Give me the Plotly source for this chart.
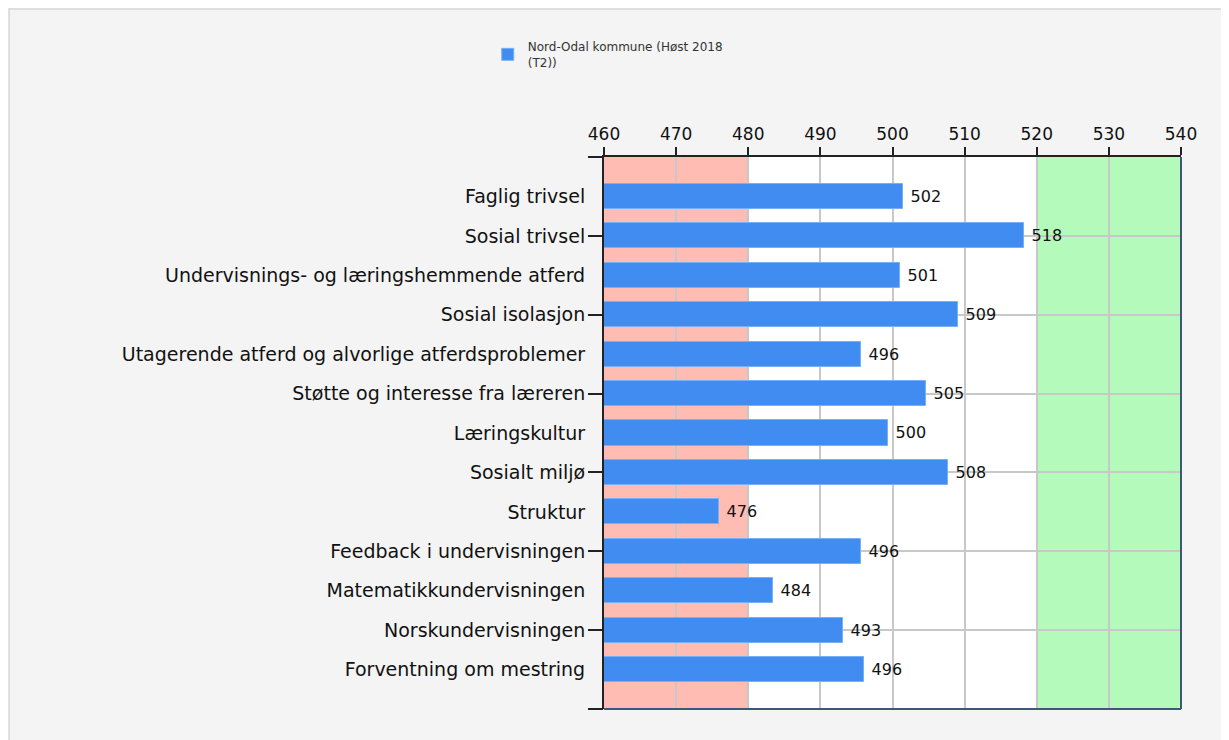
import plotly.graph_objects as go

categories = [
    "Faglig trivsel",
    "Sosial trivsel",
    "Undervisnings- og læringshemmende atferd",
    "Sosial isolasjon",
    "Utagerende atferd og alvorlige atferdsproblemer",
    "Støtte og interesse fra læreren",
    "Læringskultur",
    "Sosialt miljø",
    "Struktur",
    "Feedback i undervisningen",
    "Matematikkundervisningen",
    "Norskundervisningen",
    "Forventning om mestring",
]
values = [501.5, 518.2, 501.0, 509.1, 495.6, 504.6, 499.4, 507.7, 475.9, 495.6, 483.4, 493.1, 496.0]
value_labels = ["502", "518", "501", "509", "496", "505", "500", "508", "476", "496", "484", "493", "496"]
series_name = "Nord-Odal kommune (Høst 2018<br>(T2))"
x_ticks = [460, 470, 480, 490, 500, 510, 520, 530, 540]
low_band = (460, 480)
high_band = (520, 540)

positions = list(range(1, len(categories) + 1))
n_slots = len(categories) + 1
font_main = "DejaVu Sans, Verdana, sans-serif"

fig = go.Figure()
fig.add_trace(go.Bar(
    x=[v - x_ticks[0] for v in values],
    base=x_ticks[0],
    y=positions,
    orientation="h",
    width=0.64,
    name=series_name,
    marker=dict(color="#418cf0", line=dict(color="#78b0f7", width=1)),
    text=value_labels,
    texttemplate=" %{text}",
    textposition="outside",
    textfont=dict(family=font_main, size=16, color="#111111"),
    cliponaxis=False,
    hoverinfo="skip",
))
# helper trace so the secondary (grid) axis is drawn
fig.add_trace(go.Scatter(
    x=[x_ticks[0]], y=[0], yaxis="y2", mode="markers",
    marker=dict(opacity=0), showlegend=False, hoverinfo="skip",
))

shapes = [
    # outer panel border
    dict(type="rect", xref="paper", yref="paper", x0=-1.031, x1=1.2, y0=-0.2, y1=1.268,
         fillcolor="rgba(0,0,0,0)", line=dict(color="#dedede", width=2), layer="below"),
    # bands
    dict(type="rect", xref="x", yref="paper", x0=low_band[0], x1=low_band[1], y0=0, y1=1,
         fillcolor="#ffbcb3", line=dict(width=0), layer="below"),
    dict(type="rect", xref="x", yref="paper", x0=high_band[0], x1=high_band[1], y0=0, y1=1,
         fillcolor="#b4fbbb", line=dict(width=0), layer="below"),
    # right and bottom frame
    dict(type="line", xref="paper", yref="paper", x0=1, x1=1, y0=0, y1=1,
         line=dict(color="#3d5878", width=2), layer="above"),
    dict(type="line", xref="paper", yref="paper", x0=0, x1=1, y0=0, y1=0,
         line=dict(color="#3d5878", width=2), layer="above"),
]

fig.update_layout(
    width=1221, height=732,
    margin=dict(l=596, r=48, t=149, b=31),
    paper_bgcolor="#f4f4f4",
    plot_bgcolor="white",
    showlegend=True,
    legend=dict(
        x=-0.2015, y=1.226, xanchor="left", yanchor="top",
        bgcolor="rgba(0,0,0,0)",
        font=dict(family=font_main, size=12, color="#333333"),
        itemwidth=30,
    ),
    shapes=shapes,
    bargap=0,
    xaxis=dict(
        side="top",
        range=[x_ticks[0], x_ticks[-1]],
        tickvals=x_ticks,
        ticks="outside", ticklen=8, tickcolor="#222222", tickwidth=1.5,
        showline=True, linecolor="#222222", linewidth=2,
        showgrid=True, gridcolor="#c8c8c8", gridwidth=1.5,
        zeroline=False,
        tickfont=dict(family=font_main, size=17, color="#111111"),
        fixedrange=True,
    ),
    yaxis=dict(
        range=[n_slots, 0],
        tickvals=positions,
        ticktext=categories,
        ticks="",
        showgrid=False,
        showline=True, linecolor="#222222", linewidth=2,
        zeroline=False,
        tickfont=dict(family=font_main, size=19, color="#111111"),
        ticklabelstandoff=13,
        fixedrange=True,
    ),
    yaxis2=dict(
        overlaying="y",
        anchor="x",
        side="left",
        range=[n_slots, 0],
        tickvals=list(range(0, n_slots + 1, 2)),
        showticklabels=False,
        ticks="outside", ticklen=15, tickcolor="#222222", tickwidth=1.5,
        showgrid=True, gridcolor="#c8c8c8", gridwidth=1.5,
        zeroline=False,
        showline=False,
        fixedrange=True,
    ),
)

fig.write_html("out.html")
